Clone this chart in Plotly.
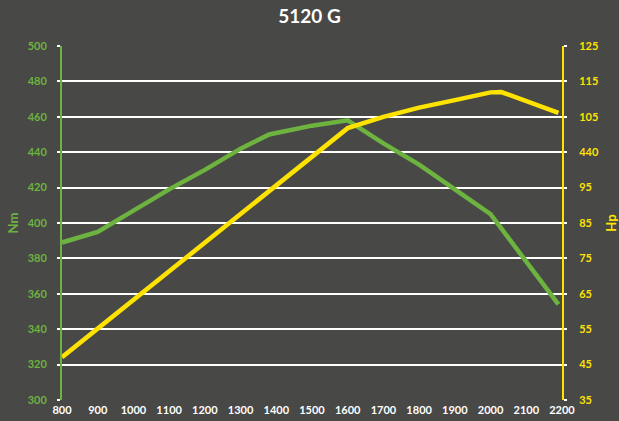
import numpy as np
import plotly.graph_objects as go

# Data
rpm_torque = [800, 900, 1000, 1100, 1200, 1300, 1380, 1500, 1600, 1700, 1800, 1900, 2000, 2190]
torque_nm = [389, 395, 407, 419, 430, 442, 450, 455, 458, 445, 433, 419, 405, 354]

rpm_power = [800, 900, 1000, 1100, 1200, 1300, 1400, 1500, 1600, 1700, 1800, 1900, 2000, 2030, 2190]
power_hp = [47.1, 55.2, 63.3, 71.4, 79.5, 87.5, 95.3, 99.3, 103.4, 105.0, 107.6, 109.7, 111.9, 112.0, 106.1]

x_ticks = [800, 900, 1000, 1100, 1200, 1300, 1400, 1500, 1600, 1700, 1800, 1900, 2000, 2100, 2200]
nm_ticks = [300, 320, 340, 360, 380, 400, 420, 440, 460, 480, 500]
hp_tick_values = [35, 45, 55, 65, 75, 85, 95, 100, 105, 115, 125]
hp_tick_labels = ["35", "45", "55", "65", "75", "85", "95", "440", "105", "115", "125"]

title = "5120 G"

# right axis positions: gridline index (label scale is not linear)
hp_pos = list(np.interp(power_hp, hp_tick_values, range(len(hp_tick_values))))

BG = "#484846"
GREEN = "#6DB33F"
YELLOW = "#FFE300"
FONT = "Lato"

fig = go.Figure()
fig.add_trace(go.Scatter(x=rpm_torque, y=torque_nm, mode="lines",
                         line=dict(color=GREEN, width=4.5), yaxis="y", hoverinfo="skip"))
fig.add_trace(go.Scatter(x=rpm_power, y=hp_pos, mode="lines",
                         line=dict(color=YELLOW, width=4.5), yaxis="y2", hoverinfo="skip"))

fig.update_layout(
    width=619, height=421,
    paper_bgcolor=BG, plot_bgcolor=BG,
    showlegend=False,
    margin=dict(l=62, r=57, t=46, b=21, autoexpand=False),
    title=dict(text="<b>" + title + "</b>", x=0.5, xanchor="center", y=0.96, yanchor="middle",
               font=dict(family=FONT, size=19, color="white")),
    xaxis=dict(range=[800, 2200], tickvals=x_ticks, showgrid=False, zeroline=False,
               showline=False, ticks="", ticklen=0, automargin=False, ticklabelstandoff=2,
               tickfont=dict(family=FONT, size=11, color="white", weight="bold")),
    yaxis=dict(range=[300, 500], tickvals=nm_ticks, showgrid=True, gridcolor="white", gridwidth=2,
               zeroline=False, showline=True, linecolor=GREEN, linewidth=2, automargin=False,
               ticks="outside", ticklen=3, tickwidth=2, tickcolor="white", ticklabelstandoff=8,
               tickfont=dict(family=FONT, size=11, color=GREEN, weight="bold"),
               title=dict(text="<b>Nm</b>", font=dict(family=FONT, size=13, color=GREEN), standoff=6)),
    yaxis2=dict(range=[0, 10], tickvals=list(range(len(hp_tick_labels))), ticktext=hp_tick_labels,
                overlaying="y", side="right", showgrid=False, zeroline=False, automargin=False,
                showline=True, linecolor=YELLOW, linewidth=2,
                ticks="outside", ticklen=3, tickwidth=2, tickcolor="white", ticklabelstandoff=10,
                tickfont=dict(family=FONT, size=11, color=YELLOW, weight="bold"),
                title=dict(text="<b>Hp</b>", font=dict(family=FONT, size=13, color=YELLOW), standoff=10)),
)

fig.write_html("out.html", config={"displayModeBar": False})

# remove default page margins so the figure fills the window exactly
with open("out.html", "r", encoding="utf-8") as f:
    html = f.read()
html = html.replace("<head>", "<head><style>html,body{margin:0;padding:0;overflow:hidden;background:%s;}</style>" % BG, 1)
with open("out.html", "w", encoding="utf-8") as f:
    f.write(html)
